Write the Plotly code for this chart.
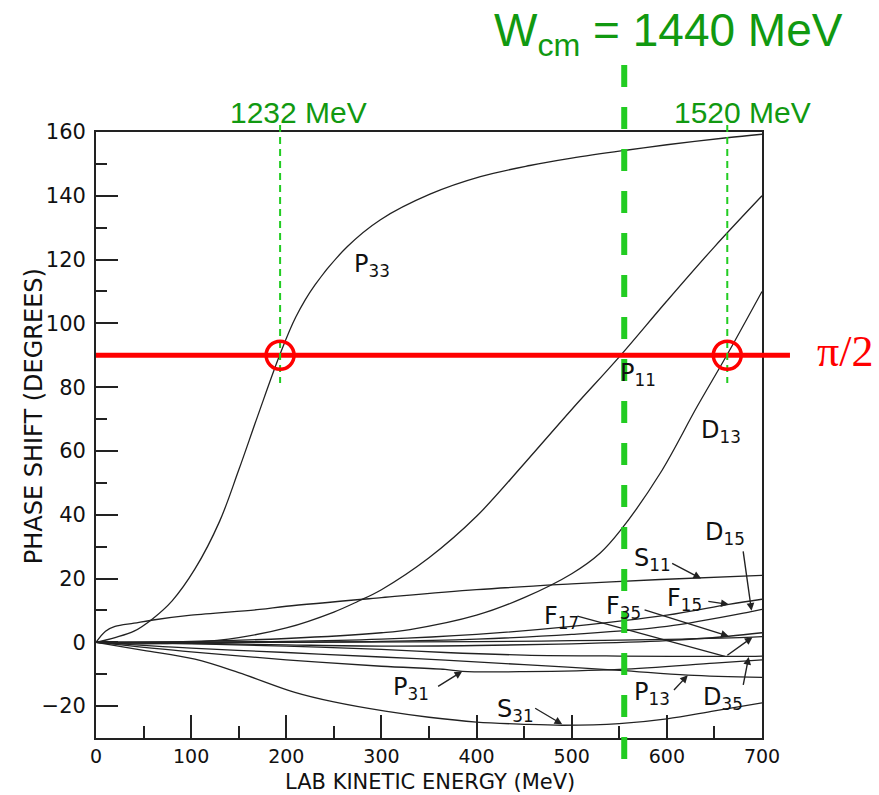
import plotly.graph_objects as go

# Pion-nucleon phase shifts vs lab kinetic energy (MeV, degrees)
p33_e = [0, 20, 40, 60, 80, 104, 130, 150, 170, 193, 210, 230, 264, 299, 351, 404, 456, 500, 555, 600, 663, 700]
p33_d = [0, 1.5, 3.5, 7.5, 13, 23, 38, 54, 71, 90, 102, 112, 124, 132.5, 140.5, 146, 149.5, 151.8, 154.2, 156, 158.2, 159.3]

p11_e = [0, 50, 100, 150, 200, 250, 275, 300, 350, 400, 450, 500, 550, 600, 650, 700]
p11_d = [0, -0.5, 0, 1.5, 4.5, 9.5, 12.8, 16.5, 26.5, 39.5, 56, 73, 89.5, 107, 124, 140]

d13_e = [0, 100, 200, 300, 330, 400, 450, 500, 530, 551, 593, 632, 663, 700]
d13_d = [0, 0.3, 1.2, 3, 4, 8.5, 14, 21.5, 28, 35, 53, 74, 90, 110]

s11_e = [0, 10, 20, 40, 60, 100, 172, 200, 300, 400, 500, 593, 700]
s11_d = [0, 3.5, 5, 6, 7, 8.5, 10.3, 11.3, 14, 16.5, 18.3, 19.7, 21]

s31_e = [0, 50, 104, 150, 209, 250, 304, 350, 400, 450, 491, 550, 600, 650, 700]
s31_d = [0, -2.5, -5.3, -9.5, -15.7, -18.7, -21.6, -23.5, -25, -25.7, -26, -25.5, -24, -21.5, -19]

p31_e = [0, 100, 200, 300, 367, 385, 450, 550, 650, 700]
p31_d = [0, -3, -5.5, -7.5, -8.5, -9.1, -9.2, -8.5, -6.5, -5.5]

p13_e = [0, 100, 200, 300, 367, 450, 550, 622, 700]
p13_d = [0, -1.8, -3.2, -4.6, -5.6, -7, -8.8, -10.3, -11]

d35_e = [0, 100, 200, 300, 367, 450, 550, 686, 700]
d35_d = [0, -0.5, -1.2, -2.2, -3.2, -4, -4.3, -4.4, -4.3]

f15_e = [0, 200, 300, 400, 500, 600, 665, 700]
f15_d = [0, 0.3, 1, 2.5, 5, 8.5, 11.9, 13.5]

d15_e = [0, 300, 400, 500, 600, 690, 700]
d15_d = [0, 0.3, 1, 2.5, 5, 9.7, 10.3]

f35_e = [0, 100, 200, 300, 400, 500, 600, 665, 700]
f35_d = [0, -0.3, -0.8, -1.2, -1, -0.5, 0.5, 1.9, 3]

f17_e = [0, 200, 400, 500, 600, 690, 700]
f17_d = [0, 0, 0.2, 0.5, 0.9, 1.6, 1.8]

curves = [
    (p33_e, p33_d), (p11_e, p11_d), (d13_e, d13_d), (s11_e, s11_d),
    (s31_e, s31_d), (p31_e, p31_d), (p13_e, p13_d), (d35_e, d35_d),
    (f15_e, f15_d), (d15_e, d15_d), (f35_e, f35_d), (f17_e, f17_d),
]

# Wave labels: (text, x, y)
wave_labels = [
    ("P<sub>33</sub>", 290, 118),
    ("P<sub>11</sub>", 570, 84),
    ("D<sub>13</sub>", 657, 66),
    ("D<sub>15</sub>", 661, 34),
    ("S<sub>11</sub>", 585, 26),
    ("F<sub>15</sub>", 619, 13.5),
    ("F<sub>35</sub>", 554, 11),
    ("F<sub>17</sub>", 489, 7.8),
    ("P<sub>31</sub>", 331, -14.5),
    ("S<sub>31</sub>", 441, -21.5),
    ("P<sub>13</sub>", 584, -16),
    ("D<sub>35</sub>", 659, -17.5),
]

# Pointer arrows: (tail_x, tail_y, head_x, head_y)
pointers = [
    (604, 25, 636, 20),
    (642, 12.9, 665, 11.9),
    (575, 10.3, 665, 1.9),
    (662, -4.4, 690, 1.6),
    (680, 29, 689, 9.9),
    (358, -14.1, 385, -9.1),
    (460, -20.4, 490, -25.7),
    (606, -15.4, 622, -10.3),
    (680, -13.8, 686, -4.6),
]
f17_leader = (506, 8.2, 661, -4.4)

resonance_e = [193.5, 663.5]   # 1232 and 1520 MeV crossings of 90 deg
w1440_e = 555.2
half_pi = 90

ink = "#222222"
green_line = "#22cc22"
green_text = "#119911"

fig = go.Figure()
for e, d in curves:
    fig.add_trace(go.Scatter(x=e, y=d, mode="lines",
                             line=dict(color=ink, width=1.3, shape="spline", smoothing=1.0),
                             hoverinfo="skip", showlegend=False))

annotations = []
for txt, x, y in wave_labels:
    annotations.append(dict(x=x, y=y, xref="x", yref="y", text=txt, showarrow=False,
                            xanchor="center", yanchor="middle",
                            font=dict(family="DejaVu Sans", size=24, color="#111111")))
for tx, ty, hx, hy in pointers:
    annotations.append(dict(x=hx, y=hy, ax=tx, ay=ty, xref="x", yref="y", axref="x", ayref="y",
                            text="", showarrow=True, arrowhead=2, arrowsize=1.1,
                            arrowwidth=1.4, arrowcolor=ink, standoff=0, startstandoff=0))

annotations += [
    dict(x=0.859, y=1.163, xref="paper", yref="paper", text="W<sub>cm</sub> = 1440 MeV",
         xanchor="center", yanchor="middle", showarrow=False,
         font=dict(family="Liberation Sans", size=46, color=green_text)),
    dict(x=0.3036, y=1.033, xref="paper", yref="paper", text="1232 MeV",
         xanchor="center", yanchor="middle", showarrow=False,
         font=dict(family="Liberation Sans", size=30, color=green_text)),
    dict(x=0.97, y=1.033, xref="paper", yref="paper", text="1520 MeV",
         xanchor="center", yanchor="middle", showarrow=False,
         font=dict(family="Liberation Sans", size=30, color=green_text)),
    dict(x=1.1246, y=91.3, xref="paper", yref="y", text="π/2", showarrow=False,
         xanchor="center", yanchor="middle",
         font=dict(family="Liberation Serif", size=44, color="#ff0000")),
    dict(x=0.5015, y=-0.0725, xref="paper", yref="paper", text="LAB KINETIC ENERGY (MeV)",
         xanchor="center", yanchor="middle", showarrow=False,
         font=dict(family="DejaVu Sans", size=21, color="#111111")),
    dict(x=-0.093, y=0.531, xref="paper", yref="paper", text="PHASE SHIFT (DEGREES)",
         xanchor="center", yanchor="middle", textangle=-90, showarrow=False,
         font=dict(family="DejaVu Sans", size=24, color="#111111")),
]

shapes = [
    # leader line for F17
    dict(type="line", xref="x", yref="y", x0=f17_leader[0], y0=f17_leader[1],
         x1=f17_leader[2], y1=f17_leader[3], line=dict(color=ink, width=1.3)),
    # 90 degree line
    dict(type="line", xref="paper", yref="y", x0=0, x1=1.042, y0=half_pi, y1=half_pi,
         line=dict(color="#ff0000", width=5)),
]
for e in resonance_e:
    shapes.append(dict(type="line", xref="x", yref="paper", x0=e, x1=e, y0=1.0116, y1=0.5858,
                       line=dict(color=green_line, width=2, dash="7px,5px")))
    shapes.append(dict(type="circle", xref="x", yref="y", x0=e - 14.7, x1=e + 14.7,
                       y0=half_pi - 4.4, y1=half_pi + 4.4, line=dict(color="#ff0000", width=3.5)))
shapes.append(dict(type="line", xref="x", yref="paper", x0=w1440_e, x1=w1440_e, y0=1.1106, y1=-0.0363,
                   line=dict(color=green_line, width=6, dash="22px,20px")))

axis_common = dict(showgrid=False, zeroline=False, showline=True, mirror=True,
                   linecolor=ink, linewidth=1.8, ticks="inside", tickwidth=1.6, tickcolor=ink)

fig.update_layout(
    width=879, height=795,
    margin=dict(l=96, r=117, t=132, b=57),
    paper_bgcolor="white", plot_bgcolor="white",
    xaxis=dict(range=[0, 700], tick0=0, dtick=100, ticklen=23, ticklabelstandoff=0,
               tickfont=dict(family="DejaVu Sans", size=19, color="#111111"),
               minor=dict(ticks="inside", ticklen=12, dtick=50, tick0=0, tickwidth=1.5, tickcolor=ink),
               **axis_common),
    yaxis=dict(range=[-30, 160], tick0=0, dtick=20, ticklen=22, ticklabelstandoff=4,
               tickfont=dict(family="DejaVu Sans", size=21, color="#111111"),
               minor=dict(ticks="inside", ticklen=11, dtick=10, tick0=0, tickwidth=1.5, tickcolor=ink),
               **axis_common),
    annotations=annotations,
    shapes=shapes,
)

fig.write_html("out.html")
